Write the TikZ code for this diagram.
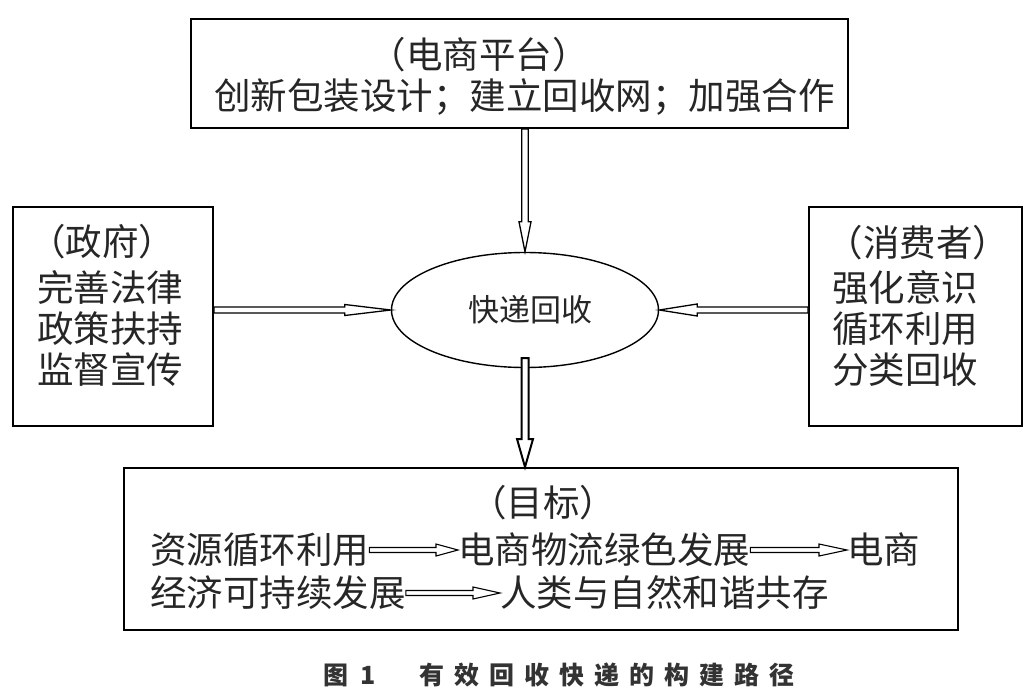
\documentclass[tikz,border=0pt]{standalone}
\usepackage{fontspec}
\setmainfont{Noto Sans CJK SC}
\usetikzlibrary{shapes.geometric,calc}
\tikzset{
  box/.style={draw=black, line width=2pt, inner sep=0pt},
  txt/.style={inner sep=0pt, align=center, font=\fontsize{36.5pt}{41pt}\selectfont, text=black!85},
  harrowline/.style={draw=black, fill=white, line width=1.3pt, line join=miter},
}
% #1 options, #2 start, #3 end, #4 half shaft, #5 half head, #6 head length
\newcommand\harrow[6][]{%
  \path[harrowline,#1] let \p1=(#2), \p2=(#3),
    \n1={veclen(\x2-\x1,\y2-\y1)}, \n2={atan2(\y2-\y1,\x2-\x1)} in
    [shift={(\p1)}, rotate=\n2]
    (0pt,#4) -- (\n1-#6,#4) -- (\n1-#6,#5) -- (\n1,0pt) -- (\n1-#6,-#5)
    -- (\n1-#6,-#4) -- (0pt,-#4) -- cycle;}
\begin{document}
\begin{tikzpicture}[x=1pt,y=-1pt]
\useasboundingbox[fill=white] (0,0) rectangle (1025,696);
% boxes
\node[box, minimum width=657pt, minimum height=109pt] (plat) at (519.5,73.5) {};
\node[box, minimum width=200pt, minimum height=219pt] (gov) at (113,316.5) {};
\node[box, minimum width=213pt, minimum height=219pt] (cons) at (915.5,316.5) {};
\node[box, minimum width=834pt, minimum height=162pt] (goal) at (541,549) {};
\node[draw=black, line width=1.4pt, ellipse, minimum width=267pt, minimum height=115pt, inner sep=0pt] (ell) at (525,310) {};
% texts
\node[txt] (platt) at (479,55) {（电商平台）};
\node[txt] (platb) at (524.5,97) {创新包装设计；建立回收网；加强合作};
\node[txt] (govt) at (102,242) {（政府）};
\node[txt] (govb) at (110,328) {完善法律\\政策扶持\\监督宣传};
\node[txt] (const) at (918,243) {（消费者）};
\node[txt] (consb) at (905,329) {强化意识\\循环利用\\分类回收};
\node[txt, font=\fontsize{31pt}{36pt}\selectfont] (ellt) at (530,310) {快递回收};
\node[txt] (goalt) at (543,503) {（目标）};
\node[txt, anchor=west] (g1) at (150,550) {资源循环利用};
\node[txt, anchor=west] (g2) at (458,550) {电商物流绿色发展};
\node[txt, anchor=west] (g3) at (847,550) {电商};
\node[txt, anchor=west] (g4) at (150,593) {经济可持续发展};
\node[txt, anchor=west] (g5) at (500,593) {人类与自然和谐共存};
% caption
\node[inner sep=0pt, font=\fontsize{25pt}{30pt}\selectfont\bfseries\addfontfeatures{LetterSpace=40}, text=black!80] (cap) at (559,675) {图\hspace{12pt}1\hspace{44pt}有效回收快递的构建路径};
% arrows
\harrow{ell.north |- plat.south}{ell.north}{3.3pt}{6pt}{30pt}
\harrow{gov.east |- ell.west}{ell.west}{3pt}{5.5pt}{46pt}
\harrow{cons.west |- ell.east}{ell.east}{3pt}{6pt}{38pt}
\harrow[line width=2pt]{$(ell.south)+(0,-10)$}{ell.south |- goal.north}{3.5pt}{8pt}{28pt}
\harrow[line width=1.1pt]{g1.east}{g2.west}{2.5pt}{6pt}{22pt}
\harrow[line width=1.1pt]{g2.east}{g3.west}{2.5pt}{6pt}{28pt}
\harrow[line width=1.1pt]{g4.east}{g5.west}{2.5pt}{6pt}{27pt}
\end{tikzpicture}
\end{document}
